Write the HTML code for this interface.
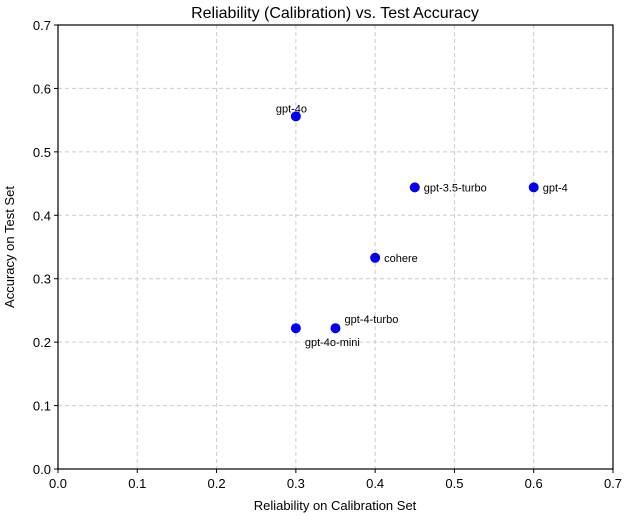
<!DOCTYPE html>
<html><head><meta charset="utf-8"><style>
body{margin:0;background:#fff}
svg text{font-family:"Liberation Sans","DejaVu Sans",sans-serif;fill:#000}
</style></head><body>
<svg id="c" width="624" height="516">
<text x="335" y="18" font-size="16" text-anchor="middle">Reliability (Calibration) vs. Test Accuracy</text>
<text x="335" y="510" font-size="13" text-anchor="middle">Reliability on Calibration Set</text>
<text transform="translate(14,247) rotate(-90)" font-size="13" text-anchor="middle">Accuracy on Test Set</text>
<g id="grid"></g><g id="ticks"></g><g id="pts"></g>
<rect x="58" y="25" width="555" height="444" fill="none" stroke="#000" stroke-width="1.2"/>
</svg>
<script>
const models=["gpt-4o","gpt-3.5-turbo","gpt-4","cohere","gpt-4-turbo","gpt-4o-mini"];
const reliability=[0.3,0.45,0.6,0.4,0.35,0.3];
const accuracy=[0.556,0.444,0.444,0.333,0.222,0.222];
const labelDx=[-20,9,9,9,9,9];
const labelDy=[-4,4,4,4,-5,18];
const xTicks=["0.0","0.1","0.2","0.3","0.4","0.5","0.6","0.7"];
const yTicks=["0.0","0.1","0.2","0.3","0.4","0.5","0.6","0.7"];
const L=58,R=613,T=25,B=469;
const xs=v=>L+(v/0.7)*(R-L), ys=v=>B-(v/0.7)*(B-T);
const NS="http://www.w3.org/2000/svg";
function mk(p,t,a){const e=document.createElementNS(NS,t);for(const k in a)e.setAttribute(k,a[k]);document.getElementById(p).appendChild(e);return e;}
xTicks.forEach(t=>{const x=xs(+t);
 if(+t>0&&+t<0.7){const g=mk("grid","line",{x1:x,x2:x,y1:T,y2:B,stroke:"#ccc","stroke-dasharray":"4,3"});
 
 }
 mk("ticks","line",{x1:x,x2:x,y1:B,y2:B+4,stroke:"#000"});
 const l=mk("ticks","text",{x:x,y:B+19,"font-size":"13","text-anchor":"middle"});l.textContent=t;
 
 });
yTicks.forEach(t=>{const y=ys(+t);
 if(+t>0&&+t<0.7){const g=mk("grid","line",{x1:L,x2:R,y1:y,y2:y,stroke:"#ccc","stroke-dasharray":"4,3"});
 
 }
 mk("ticks","line",{x1:L-4,x2:L,y1:y,y2:y,stroke:"#000"});
 const l=mk("ticks","text",{x:L-7,y:y+5,"font-size":"13","text-anchor":"end"});l.textContent=t;
 
 });
models.forEach((m,i)=>{const x=xs(reliability[i]),y=ys(accuracy[i]);
 const c=mk("pts","circle",{cx:x,cy:y,r:5,fill:"#0000ee"});
 
 
 const t=mk("pts","text",{x:x+labelDx[i],y:y+labelDy[i],"font-size":"11"});t.textContent=m;
 
 });
</script>
</body></html>
